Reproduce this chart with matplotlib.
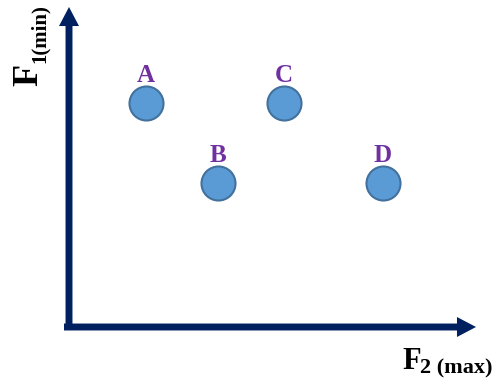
import matplotlib
matplotlib.use("Agg")
import matplotlib.pyplot as plt

# ===== データ =====
labels = ["A", "B", "C", "D"]
f2_values = [7.7, 14.9, 21.5, 31.4]   # 横軸 F2 (max)
f1_values = [22.4, 14.4, 22.4, 14.4]  # 縦軸 F1 (min)

navy = "#002060"
purple = "#7030A0"
serif = ["Liberation Serif", "DejaVu Serif"]

fig = plt.figure(figsize=(4.93, 3.83), dpi=100)
W, H = 493, 383
# 原点 (69, 327) px、右端 476 px、上端 7 px
ax = fig.add_axes([69 / W, (H - 327) / H, (476 - 69) / W, (327 - 7) / H])
ax.set_xlim(0, 40.7)
ax.set_ylim(0, 32.0)
ax.axis("off")

# 矢印 (軸)
arrow_kw = dict(arrowstyle="simple,head_length=1.37,head_width=1.44,tail_width=0.5",
                fc=navy, ec="none", lw=0, mutation_scale=10,
                shrinkA=0, shrinkB=0)
ax.annotate("", xy=(0, 1.0), xytext=(0, -0.0094), xycoords="axes fraction",
            arrowprops=arrow_kw, annotation_clip=False)
ax.annotate("", xy=(1.0, 0), xytext=(-0.0123, 0), xycoords="axes fraction",
            arrowprops=arrow_kw, annotation_clip=False)

# 点
ax.scatter(f2_values, f1_values, s=600, color="#5B9BD5",
           edgecolor="#41719C", linewidth=1.5, zorder=3, clip_on=False)
for lab, x, y in zip(labels, f2_values, f1_values):
    ax.annotate(lab, (x, y), xytext=(0, 14.8), textcoords="offset points",
                ha="center", va="baseline", color=purple, fontsize=18,
                fontweight="bold", family=serif)

# 軸ラベル
fig.text(37 / W, 1 - 86 / H, "F", rotation=90, rotation_mode="anchor",
         ha="left", va="baseline", fontsize=26, fontweight="bold", family=serif)
fig.text(45 / W, 1 - 63 / H, "1(min)", rotation=90, rotation_mode="anchor",
         ha="left", va="baseline", fontsize=15, fontweight="bold", family=serif)

fig.text(402 / W, 1 - 369 / H, "F", ha="left", va="baseline",
         fontsize=22, fontweight="bold", family=serif)
fig.text(420 / W, 1 - 373 / H, "2 (max)", ha="left", va="baseline",
         fontsize=16, fontweight="bold", family=serif)

fig.savefig("out.png", dpi=100)
